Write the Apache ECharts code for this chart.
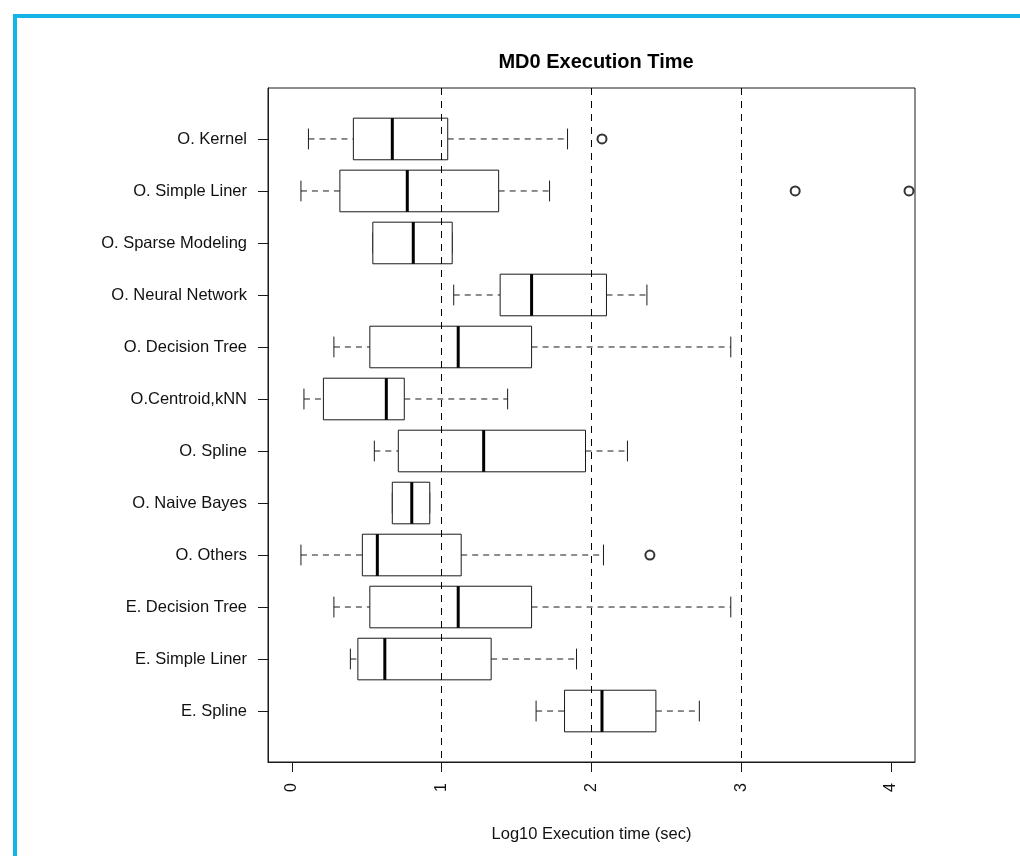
<!DOCTYPE html>
<html>
<head>
<meta charset="utf-8">
<title>MD0 Execution Time</title>
<script src="https://cdn.jsdelivr.net/npm/echarts@6/dist/echarts.min.js"></script>
<style>
  html, body { margin: 0; padding: 0; background: #ffffff; }
  #chart { width: 1020px; height: 856px; }
</style>
</head>
<body>
<div id="chart"></div>
<script>
// Groups, listed top to bottom
const categories = [
  'O. Kernel', 'O. Simple Liner', 'O. Sparse Modeling', 'O. Neural Network',
  'O. Decision Tree', 'O.Centroid,kNN', 'O. Spline', 'O. Naive Bayes',
  'O. Others', 'E. Decision Tree', 'E. Simple Liner', 'E. Spline'
];

// Five-number summaries (log10 seconds)
const whiskerLow  = [0.11, 0.06, 0.54, 1.08, 0.28, 0.08, 0.55, 0.67, 0.06, 0.28, 0.39, 1.63];
const quartile1   = [0.41, 0.32, 0.54, 1.39, 0.52, 0.21, 0.71, 0.67, 0.47, 0.52, 0.44, 1.82];
const medians     = [0.67, 0.77, 0.81, 1.60, 1.11, 0.63, 1.28, 0.80, 0.57, 1.11, 0.62, 2.07];
const quartile3   = [1.04, 1.38, 1.07, 2.10, 1.60, 0.75, 1.96, 0.92, 1.13, 1.60, 1.33, 2.43];
const whiskerHigh = [1.84, 1.72, 1.07, 2.37, 2.93, 1.44, 2.24, 0.92, 2.08, 2.93, 1.90, 2.72];

// Points beyond the whiskers
const outlierGroups = ['O. Kernel', 'O. Simple Liner', 'O. Simple Liner', 'O. Others'];
const outlierValues = [2.07, 3.36, 4.12, 2.39];

// Value axis ticks and reference lines
const xTicks = [0, 1, 2, 3, 4];
const refLines = [1, 2, 3];

// R-style limits: axis limits 0..4 and groups 0.5..n+0.5, each padded by 4%
const xLimits = [0, 4];
const n = categories.length;
const xPad = (xLimits[1] - xLimits[0]) * 0.04;
const yPad = n * 0.04;

const boxData = categories.map((c, i) => [
  i + 1, whiskerLow[i], quartile1[i], medians[i], quartile3[i], whiskerHigh[i]
]);
const outlierData = outlierValues.map((v, i) => [v, categories.indexOf(outlierGroups[i]) + 1]);

const FONT = "'Liberation Sans', Arial, Helvetica, sans-serif";
const INK = '#1a1a1a';

function renderBox(params, api) {
  const row = api.value(0);
  const pLo = api.coord([api.value(1), row]);
  const pQ1 = api.coord([api.value(2), row]);
  const pMed = api.coord([api.value(3), row]);
  const pQ3 = api.coord([api.value(4), row]);
  const pHi = api.coord([api.value(5), row]);
  const band = api.size([0, 1])[1];
  const boxH = band * 0.8;
  const capH = boxH * 0.5;
  const cy = pMed[1];
  const dashed = { stroke: INK, lineWidth: 1, lineDash: [6, 5] };
  const solid = { stroke: INK, lineWidth: 1 };
  return {
    type: 'group',
    children: [
      { type: 'line', shape: { x1: pLo[0], y1: cy, x2: pQ1[0], y2: cy }, style: dashed },
      { type: 'line', shape: { x1: pQ3[0], y1: cy, x2: pHi[0], y2: cy }, style: dashed },
      { type: 'line', shape: { x1: pLo[0], y1: cy - capH / 2, x2: pLo[0], y2: cy + capH / 2 }, style: solid },
      { type: 'line', shape: { x1: pHi[0], y1: cy - capH / 2, x2: pHi[0], y2: cy + capH / 2 }, style: solid },
      { type: 'rect', shape: { x: pQ1[0], y: cy - boxH / 2, width: pQ3[0] - pQ1[0], height: boxH },
        style: { fill: '#ffffff', stroke: INK, lineWidth: 1 } },
      { type: 'line', shape: { x1: pMed[0], y1: cy - boxH / 2, x2: pMed[0], y2: cy + boxH / 2 },
        style: { stroke: '#000', lineWidth: 3 } }
    ]
  };
}

const chart = echarts.init(document.getElementById('chart'), null, { renderer: 'canvas' });

chart.setOption({
  backgroundColor: '#ffffff',
  animation: false,
  textStyle: { fontFamily: FONT },
  title: {
    text: 'MD0 Execution Time',
    left: 591,
    textAlign: 'center',
    top: 47,
    textStyle: { fontFamily: FONT, fontSize: 20, fontWeight: 'bold', color: '#000' }
  },
  graphic: [
    { type: 'rect', left: 13, top: 14, shape: { width: 1007, height: 4 }, style: { fill: '#12b5e3' } },
    { type: 'rect', left: 13, top: 14, shape: { width: 4, height: 842 }, style: { fill: '#12b5e3' } }
  ],
  grid: {
    left: 268, right: 105, top: 88, bottom: 94,
    show: true, borderColor: INK, borderWidth: 1, backgroundColor: 'transparent'
  },
  xAxis: {
    type: 'value',
    min: xLimits[0] - xPad,
    max: xLimits[1] + xPad,
    axisLine: { show: true, onZero: false, lineStyle: { color: INK, width: 1 } },
    axisTick: { show: true, customValues: xTicks, length: 10, lineStyle: { color: INK } },
    axisLabel: {
      customValues: xTicks, rotate: 90, margin: 21,
      fontFamily: FONT, fontSize: 16, color: '#111'
    },
    splitLine: { show: false },
    name: 'Log10 Execution time (sec)',
    nameLocation: 'middle',
    nameGap: 64,
    nameTextStyle: { fontFamily: FONT, fontSize: 16.5, color: '#111' }
  },
  yAxis: {
    type: 'value',
    inverse: true,
    min: 0.5 - yPad,
    max: n + 0.5 + yPad,
    axisLine: { show: true, onZero: false, lineStyle: { color: INK, width: 1 } },
    axisTick: { show: true, customValues: categories.map((c, i) => i + 1), length: 10, lineStyle: { color: INK } },
    axisLabel: {
      customValues: categories.map((c, i) => i + 1),
      formatter: v => categories[Math.round(v) - 1] || '',
      margin: 21,
      padding: [4, 0, 0, 0],
      fontFamily: FONT, fontSize: 16.5, color: '#111'
    },
    splitLine: { show: false }
  },
  series: [
    {
      type: 'custom',
      renderItem: renderBox,
      encode: { x: [1, 2, 3, 4, 5], y: 0 },
      data: boxData,
      z: 3,
      markLine: {
        silent: true,
        symbol: 'none',
        label: { show: false },
        lineStyle: { color: '#000', width: 1, type: [7, 6] },
        data: refLines.map(v => ({ xAxis: v }))
      }
    },
    {
      type: 'scatter',
      data: outlierData,
      symbol: 'emptyCircle',
      symbolSize: 9,
      itemStyle: { color: '#000', borderColor: '#000', borderWidth: 1 },
      z: 4
    }
  ]
});
</script>
</body>
</html>
